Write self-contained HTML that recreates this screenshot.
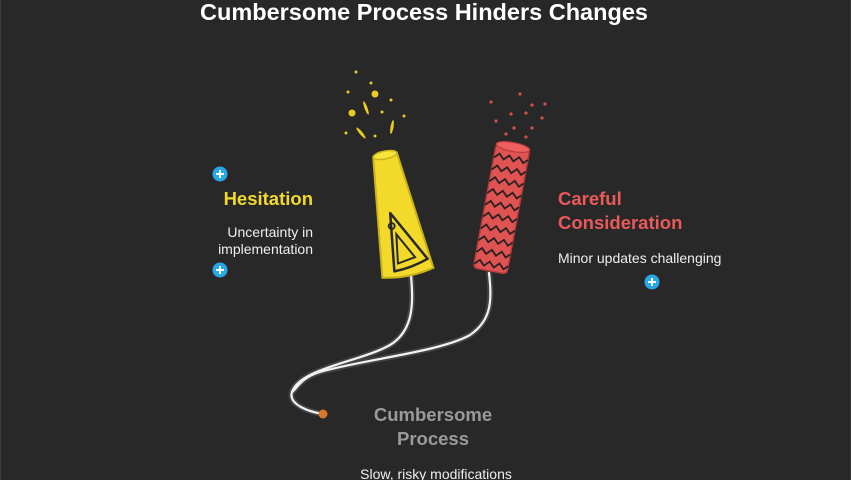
<!DOCTYPE html>
<html><head><meta charset="utf-8"><style>
html,body{margin:0;padding:0;background:#282828;}
body{width:851px;height:480px;overflow:hidden;position:relative;font-family:"Liberation Sans",Arial,sans-serif;}
.frame{position:absolute;left:0;top:0;width:849px;height:480px;border-left:1px solid #3a3a3a;border-right:1px solid #3a3a3a;}
</style></head><body>
<div class="frame"></div>
<svg width="851" height="480" viewBox="0 0 851 480" style="position:absolute;left:0;top:0" font-family="Liberation Sans, Arial, sans-serif">
<text x="424" y="20" text-anchor="middle" fill="#ffffff" font-size="23.5" font-weight="bold">Cumbersome Process Hinders Changes</text>

<g fill="none" stroke-linecap="round">
<path d="M411,275 C413,300 415,330 390,345 C360,362 300,368 292,392 C288,405 310,412 323,414" stroke="#444" stroke-width="6"/>
<path d="M489,273 C492,300 492,320 470,335 C440,352 360,360 320,372 C300,378 296,390 292,392" stroke="#444" stroke-width="6"/>
<path d="M411,275 C413,300 415,330 390,345 C360,362 300,368 292,392 C288,405 310,412 323,414" stroke="#f2f2f2" stroke-width="2.2"/>
<path d="M489,273 C492,300 492,320 470,335 C440,352 360,360 320,372 C300,378 296,390 292,392" stroke="#f2f2f2" stroke-width="2.2"/>
</g>
<circle cx="323" cy="414" r="4.5" fill="#d9782c"/>

<g transform="translate(385,155) rotate(-11)">
<path d="M-12,0 L12,0 L26,120 Q0,126 -26,120 Z" fill="#f2d92a" stroke="#c9b21a" stroke-width="2"/>
<path d="M-6,58 L22,110 Q4,116 -13,116 Z" fill="none" stroke="#2a2a2a" stroke-width="2.5" stroke-linejoin="round"/>
<path d="M-4,80 L10,106 L-8,109 Z" fill="none" stroke="#2a2a2a" stroke-width="2"/>
<circle cx="-7" cy="71" r="3" fill="none" stroke="#2a2a2a" stroke-width="1.8"/>
<ellipse cx="0" cy="0" rx="12" ry="4" fill="#f7e43a" stroke="#c9b21a" stroke-width="1.5"/>
</g>
<g fill="#e8cc24">
<circle cx="356" cy="72" r="1.5"/><circle cx="371" cy="83" r="1.5"/><circle cx="348" cy="92" r="1.5"/>
<circle cx="375" cy="94" r="3.5"/><circle cx="391" cy="100" r="1.5"/><circle cx="352" cy="113" r="3.5"/>
<circle cx="382" cy="112" r="1.5"/><circle cx="404" cy="116" r="1.5"/><circle cx="346" cy="133" r="1.5"/>
<circle cx="375" cy="136" r="1.5"/>
<ellipse cx="366" cy="108" rx="1.5" ry="7" transform="rotate(-20 366 108)"/>
<ellipse cx="392" cy="127" rx="1.5" ry="7" transform="rotate(10 392 127)"/>
<ellipse cx="361" cy="133" rx="1.5" ry="7" transform="rotate(-40 361 133)"/>
</g>

<g transform="translate(513,147) rotate(10.5)">
<rect x="-17" y="0" width="34" height="126" rx="4" fill="#e05353" stroke="#b83c3c" stroke-width="1.5"/>
<g fill="none" stroke="#2a2020" stroke-width="1.8">
<polyline points="-17,14 -12,9 -7,14 -2,9 3,14 8,9 13,14 17,10"/>
<polyline points="-17,26 -12,21 -7,26 -2,21 3,26 8,21 13,26 17,22"/>
<polyline points="-17,38 -12,33 -7,38 -2,33 3,38 8,33 13,38 17,34"/>
<polyline points="-17,50 -12,45 -7,50 -2,45 3,50 8,45 13,50 17,46"/>
<polyline points="-17,62 -12,57 -7,62 -2,57 3,62 8,57 13,62 17,58"/>
<polyline points="-17,74 -12,69 -7,74 -2,69 3,74 8,69 13,74 17,70"/>
<polyline points="-17,86 -12,81 -7,86 -2,81 3,86 8,81 13,86 17,82"/>
<polyline points="-17,98 -12,93 -7,98 -2,93 3,98 8,93 13,98 17,94"/>
<polyline points="-17,110 -12,105 -7,110 -2,105 3,110 8,105 13,110 17,106"/>
<polyline points="-17,122 -12,117 -7,122 -2,117 3,122 8,117 13,122 17,118"/>
</g>
<ellipse cx="0" cy="0" rx="17" ry="4.5" fill="#ee6060" stroke="#b83c3c" stroke-width="1.2"/>
</g>
<g fill="#d84c4c">
<circle cx="491" cy="102" r="1.6"/><circle cx="520" cy="94" r="1.6"/><circle cx="532" cy="105" r="1.6"/>
<circle cx="545" cy="104" r="1.6"/><circle cx="511" cy="114" r="1.6"/><circle cx="526" cy="113" r="1.6"/>
<circle cx="542" cy="118" r="1.6"/><circle cx="496" cy="121" r="1.6"/><circle cx="514" cy="128" r="1.6"/>
<circle cx="532" cy="128" r="1.6"/><circle cx="506" cy="134" r="1.6"/><circle cx="526" cy="137" r="1.6"/>
</g>

<g>
<circle cx="220" cy="174" r="7.5" fill="#29a8e8"/><path d="M216,174 H224 M220,170 V178" stroke="#fff" stroke-width="2"/>
<circle cx="220" cy="270" r="7.5" fill="#29a8e8"/><path d="M216,270 H224 M220,266 V274" stroke="#fff" stroke-width="2"/>
<circle cx="652" cy="282" r="7.5" fill="#29a8e8"/><path d="M648,282 H656 M652,278 V286" stroke="#fff" stroke-width="2"/>
</g>

<text x="313" y="205" text-anchor="end" fill="#f2d92a" font-size="18.5" font-weight="bold">Hesitation</text>
<text x="313" y="237" text-anchor="end" fill="#eeeeee" font-size="14">Uncertainty in</text>
<text x="313" y="254" text-anchor="end" fill="#eeeeee" font-size="14">implementation</text>

<text x="558" y="205" fill="#ea5a5a" font-size="18.5" font-weight="bold">Careful</text>
<text x="558" y="229" fill="#ea5a5a" font-size="18.5" font-weight="bold">Consideration</text>
<text x="558" y="263" fill="#eeeeee" font-size="14">Minor updates challenging</text>

<text x="433" y="421" text-anchor="middle" fill="#9a9a9a" font-size="18.5" font-weight="bold">Cumbersome</text>
<text x="433" y="445" text-anchor="middle" fill="#9a9a9a" font-size="18.5" font-weight="bold">Process</text>
<text x="436" y="479" text-anchor="middle" fill="#eeeeee" font-size="14">Slow, risky modifications</text>
</svg>
</body></html>
